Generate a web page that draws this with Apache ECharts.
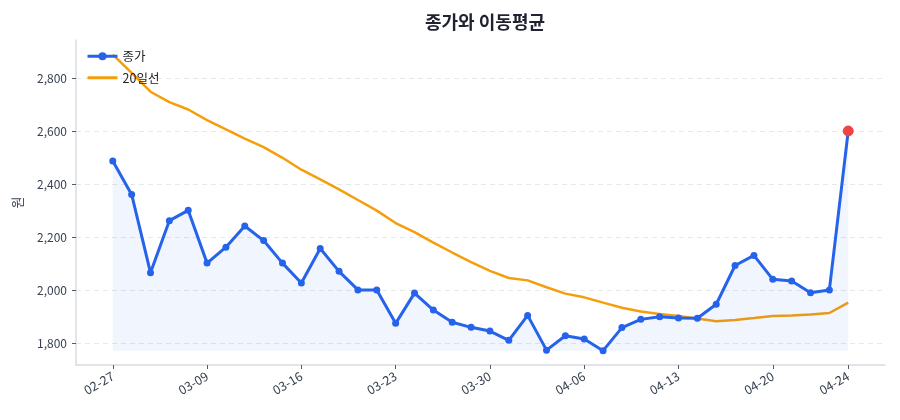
<!DOCTYPE html>
<html>
<head>
<meta charset="utf-8">
<script src="https://cdn.jsdelivr.net/npm/echarts@6/dist/echarts.min.js"></script>
<style>
  html, body { margin: 0; padding: 0; background: #fff; }
  #chart { width: 900px; height: 420px; }
</style>
</head>
<body>
<div id="chart"></div>
<script>
// 거래일 (2026, 3/2 대체공휴일 제외)
var dates = [
  '02-27', '03-03', '03-04', '03-05', '03-06',
  '03-09', '03-10', '03-11', '03-12', '03-13',
  '03-16', '03-17', '03-18', '03-19', '03-20',
  '03-23', '03-24', '03-25', '03-26', '03-27',
  '03-30', '03-31', '04-01', '04-02', '04-03',
  '04-06', '04-07', '04-08', '04-09', '04-10',
  '04-13', '04-14', '04-15', '04-16', '04-17',
  '04-20', '04-21', '04-22', '04-23', '04-24'
];
// 종가
var close = [
  2487, 2361, 2066, 2262, 2301, 2102, 2162, 2242, 2187, 2102,
  2027, 2157, 2071, 2001, 2001, 1875, 1989, 1925, 1879, 1860,
  1846, 1811, 1905, 1774, 1828, 1816, 1772, 1859, 1890, 1900,
  1895, 1894, 1947, 2093, 2131, 2041, 2035, 1990, 2001, 2600
];
// 20일 이동평균
var ma20 = [
  2888, 2819, 2748, 2709, 2681, 2641, 2606, 2571, 2539, 2499,
  2454, 2418, 2380, 2340, 2300, 2253, 2219, 2179, 2142, 2106,
  2073, 2046, 2037, 2011, 1987, 1973, 1953, 1934, 1920, 1910,
  1903, 1893, 1883, 1888, 1895, 1903, 1905, 1908, 1914, 1953
];
var yTicks = [1800, 2000, 2200, 2400, 2600, 2800];
var xTickIdx = [0, 5, 10, 15, 20, 25, 30, 35, 39];

var font = '"Noto Sans CJK KR", "Noto Sans", sans-serif';

function pairs(arr) {
  return arr.map(function (v, i) { return [i, v]; });
}

var closeData = pairs(close);
var last = closeData.length - 1;
closeData[last] = {
  value: closeData[last],
  symbolSize: 10,
  itemStyle: { color: '#ef4444', borderColor: '#ef4444' }
};

var closeMin = Math.min.apply(null, close);

var chart = echarts.init(document.getElementById('chart'));
var option = {
  animation: false,
  textStyle: { fontFamily: font },
  title: {
    text: '종가와 이동평균',
    left: 480,
    textAlign: 'center',
    top: 8,
    textStyle: { fontFamily: font, fontSize: 18, fontWeight: 'bold', color: '#1f2330' }
  },
  legend: {
    left: 81,
    top: 45,
    orient: 'vertical',
    itemWidth: 30,
    itemHeight: 10,
    itemGap: 9,
    textStyle: { fontFamily: font, fontSize: 12.5, color: '#222' },
    data: [
      { name: '종가', lineStyle: { width: 3 } },
      { name: '20일선', lineStyle: { width: 3 }, itemStyle: { opacity: 0 } }
    ]
  },
  grid: { left: 76, right: 15, top: 40, bottom: 55 },
  xAxis: {
    type: 'value',
    min: -1.95,
    max: 40.95,
    axisLine: { show: true, onZero: false, lineStyle: { color: '#d9dce3', width: 1.5 } },
    axisTick: {
      show: true,
      length: 4,
      customValues: xTickIdx,
      lineStyle: { color: '#555b66' }
    },
    axisLabel: {
      customValues: xTickIdx,
      rotate: 30,
      margin: 10,
      fontSize: 12.5,
      color: '#374151',
      fontFamily: font,
      formatter: function (v) { return dates[Math.round(v)]; }
    },
    splitLine: { show: false }
  },
  yAxis: {
    type: 'value',
    min: 1718,
    max: 2943,
    name: '원',
    nameLocation: 'middle',
    nameRotate: 90,
    nameGap: 52,
    nameTextStyle: { fontFamily: font, fontSize: 13, color: '#374151' },
    axisLine: { show: true, onZero: false, lineStyle: { color: '#d9dce3', width: 1.5 } },
    axisTick: {
      show: true,
      length: 4,
      customValues: yTicks,
      lineStyle: { color: '#555b66' }
    },
    axisLabel: {
      customValues: yTicks,
      margin: 9,
      fontSize: 12,
      color: '#374151',
      fontFamily: font,
      formatter: function (v) { return v.toLocaleString('en-US'); }
    },
    splitLine: {
      show: true,
      lineStyle: { color: '#e6e8ec', type: [5, 4], width: 1 }
    }
  },
  series: [
    {
      name: '종가',
      type: 'line',
      data: closeData,
      symbol: 'circle',
      symbolSize: 7,
      showSymbol: true,
      lineStyle: { color: '#2563eb', width: 3 },
      itemStyle: { color: '#2563eb' },
      areaStyle: { color: 'rgba(37,99,235,0.09)', origin: closeMin },
      z: 3
    },
    {
      name: '20일선',
      type: 'line',
      data: pairs(ma20),
      symbol: 'none',
      lineStyle: { color: '#f59e0b', width: 2.5 },
      itemStyle: { color: '#f59e0b' },
      z: 2
    }
  ]
};
chart.setOption(option);
</script>
</body>
</html>
